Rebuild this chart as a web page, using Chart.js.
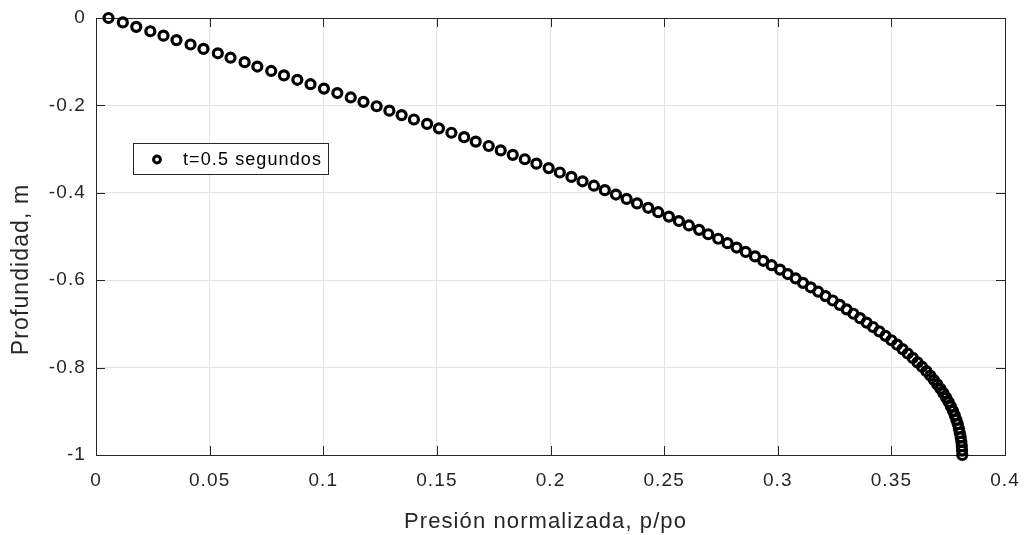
<!DOCTYPE html>
<html>
<head>
<meta charset="utf-8">
<script src="https://cdn.jsdelivr.net/npm/chart.js@4.4.1/dist/chart.umd.min.js"></script>
<style>
  html, body { margin: 0; padding: 0; background: #ffffff; }
  #wrap { width: 1025px; height: 535px; position: relative; }
</style>
</head>
<body>
<div id="wrap"><canvas id="c" width="1025" height="535"></canvas></div>
<script>
// ---- data ----
const depth = [
  0, -0.0101, -0.0202, -0.0303, -0.0404, -0.0505, -0.0606, -0.0707, -0.0808, -0.0909,
  -0.1010, -0.1111, -0.1212, -0.1313, -0.1414, -0.1515, -0.1616, -0.1717, -0.1818, -0.1919,
  -0.2020, -0.2121, -0.2222, -0.2323, -0.2424, -0.2525, -0.2626, -0.2727, -0.2828, -0.2929,
  -0.3030, -0.3131, -0.3232, -0.3333, -0.3434, -0.3535, -0.3636, -0.3737, -0.3838, -0.3939,
  -0.4040, -0.4141, -0.4242, -0.4343, -0.4444, -0.4545, -0.4646, -0.4747, -0.4848, -0.4949,
  -0.5051, -0.5152, -0.5253, -0.5354, -0.5455, -0.5556, -0.5657, -0.5758, -0.5859, -0.5960,
  -0.6061, -0.6162, -0.6263, -0.6364, -0.6465, -0.6566, -0.6667, -0.6768, -0.6869, -0.6970,
  -0.7071, -0.7172, -0.7273, -0.7374, -0.7475, -0.7576, -0.7677, -0.7778, -0.7879, -0.7980,
  -0.8081, -0.8182, -0.8283, -0.8384, -0.8485, -0.8586, -0.8687, -0.8788, -0.8889, -0.8990,
  -0.9091, -0.9192, -0.9293, -0.9394, -0.9495, -0.9596, -0.9697, -0.9798, -0.9899, -1.0000
];
const pressure = [
  0.0055, 0.0118, 0.0177, 0.0239, 0.0297, 0.0354, 0.0416, 0.0473, 0.0536, 0.0592,
  0.0654, 0.0710, 0.0771, 0.0827, 0.0886, 0.0944, 0.1003, 0.1062, 0.1121, 0.1177,
  0.1235, 0.1291, 0.1345, 0.1399, 0.1457, 0.1509, 0.1564, 0.1620, 0.1671, 0.1728,
  0.1781, 0.1834, 0.1887, 0.1938, 0.1992, 0.2041, 0.2092, 0.2141, 0.2191, 0.2239,
  0.2288, 0.2335, 0.2381, 0.2430, 0.2474, 0.2521, 0.2565, 0.2609, 0.2654, 0.2694,
  0.2738, 0.2779, 0.2819, 0.2859, 0.2900, 0.2936, 0.2973, 0.3010, 0.3044, 0.3079,
  0.3111, 0.3145, 0.3178, 0.3210, 0.3242, 0.3273, 0.3303, 0.3333, 0.3362, 0.3391,
  0.3419, 0.3447, 0.3474, 0.3500, 0.3525, 0.3549, 0.3572, 0.3594, 0.3615, 0.3635,
  0.3654, 0.3671, 0.3687, 0.3702, 0.3716, 0.3729, 0.3741, 0.3752, 0.3762, 0.3771,
  0.3779, 0.3786, 0.3792, 0.3797, 0.3801, 0.3805, 0.3808, 0.3810, 0.3811, 0.3812
];
const xTicks = [0, 0.05, 0.1, 0.15, 0.2, 0.25, 0.3, 0.35, 0.4];
const xTickLabels = ['0', '0.05', '0.1', '0.15', '0.2', '0.25', '0.3', '0.35', '0.4'];
const yTicks = [-1, -0.8, -0.6, -0.4, -0.2, 0];
const yTickLabels = ['-1', '-0.8', '-0.6', '-0.4', '-0.2', '0'];
const seriesLabel = 't=0.5 segundos';
const xTitle = 'Presión normalizada, p/po';
const yTitle = 'Profundidad, m';

// ---- styling ----
const FONT = '"Liberation Sans", Arial, Helvetica, sans-serif';
const AXIS_COLOR = '#262626';
const GRID_COLOR = '#e4e4e4';
Chart.defaults.font.family = FONT;

function labelFor(list, labels, v) {
  for (let i = 0; i < list.length; i++) if (Math.abs(list[i] - v) < 1e-9) return labels[i];
  return '';
}

const letterSpacingPlugin = {
  id: 'letterSpacing',
  beforeDraw(chart) { try { chart.ctx.letterSpacing = '1.1px'; } catch (e) {} }
};

const titleShiftPlugin = {
  id: 'titleShift',
  afterLayout(chart) {
    [['x', -5, 3], ['y', 8, 33]].forEach(([id, dx, dy]) => {
      const s = chart.scales[id];
      if (!s || s.__shifted) return;
      const name = typeof s.drawTitle === 'function' ? 'drawTitle' : '_drawTitle';
      const orig = s[name];
      s[name] = function () {
        this.ctx.save();
        this.ctx.translate(dx, dy);
        orig.apply(this, arguments);
        this.ctx.restore();
      };
      s.__shifted = true;
    });
  }
};

// axes box and inward tick marks (MATLAB style)
const framePlugin = {
  id: 'frame',
  beforeDatasetsDraw(chart) {
    const { ctx, chartArea: a, scales } = chart;
    const L = 9;
    ctx.save();
    ctx.strokeStyle = AXIS_COLOR;
    ctx.lineWidth = 1;
    ctx.beginPath();
    scales.x.ticks.forEach(t => {
      const px = Math.round(scales.x.getPixelForValue(t.value)) + 0.5;
      ctx.moveTo(px, a.bottom); ctx.lineTo(px, a.bottom - L);
      ctx.moveTo(px, a.top); ctx.lineTo(px, a.top + L);
    });
    scales.y.ticks.forEach(t => {
      const py = Math.round(scales.y.getPixelForValue(t.value)) + 0.5;
      ctx.moveTo(a.left, py); ctx.lineTo(a.left + L, py);
      ctx.moveTo(a.right, py); ctx.lineTo(a.right - L, py);
    });
    ctx.stroke();
    ctx.strokeRect(Math.round(a.left) + 0.5, Math.round(a.top) + 0.5,
                   Math.round(a.right - a.left), Math.round(a.bottom - a.top));
    ctx.restore();
  }
};

// boxed legend placed inside the axes like the MATLAB legend
const legendBoxPlugin = {
  id: 'legendBox',
  afterDatasetsDraw(chart) {
    const ctx = chart.ctx;
    const ds = chart.data.datasets[0];
    const bx = 133, by = 143, bw = 195, bh = 31;
    ctx.save();
    ctx.fillStyle = '#ffffff';
    ctx.fillRect(bx, by, bw, bh);
    ctx.strokeStyle = AXIS_COLOR;
    ctx.lineWidth = 1;
    ctx.strokeRect(bx + 0.5, by + 0.5, bw, bh);
    ctx.beginPath();
    ctx.arc(157, 159.5, 3.4, 0, Math.PI * 2);
    ctx.strokeStyle = ds.borderColor;
    ctx.lineWidth = 3;
    ctx.stroke();
    ctx.fillStyle = '#000000';
    ctx.font = '18px ' + FONT;
    ctx.textBaseline = 'middle';
    ctx.textAlign = 'left';
    ctx.fillText(ds.label, 183, 160);
    ctx.restore();
  }
};

const points = pressure.map((p, i) => ({ x: p, y: depth[i] }));

new Chart(document.getElementById('c'), {
  type: 'scatter',
  data: {
    datasets: [{
      label: seriesLabel,
      data: points,
      showLine: false,
      pointStyle: 'circle',
      pointRadius: 4.5,
      pointHoverRadius: 4.5,
      borderWidth: 3.2,
      pointBorderWidth: 3.2,
      borderColor: '#000000',
      backgroundColor: 'rgba(0,0,0,0)',
      clip: false
    }]
  },
  options: {
    responsive: false,
    devicePixelRatio: 1,
    animation: false,
    events: [],
    layout: { padding: { left: 0, right: 20, top: 18, bottom: 0 } },
    plugins: {
      legend: { display: false },
      tooltip: { enabled: false }
    },
    scales: {
      x: {
        type: 'linear',
        position: 'bottom',
        min: 0, max: 0.4,
        afterBuildTicks: s => { s.ticks = xTicks.map(v => ({ value: v })); },
        afterFit: s => { s.height = 80; s.paddingLeft = 0; s.paddingRight = 0; },
        ticks: {
          autoSkip: false, maxRotation: 0, padding: 14,
          color: AXIS_COLOR, font: { size: 19 },
          callback: v => labelFor(xTicks, xTickLabels, v)
        },
        grid: { color: GRID_COLOR, lineWidth: 1, drawTicks: false },
        border: { display: false },
        title: { display: true, text: xTitle, color: AXIS_COLOR, font: { size: 22 }, padding: { top: 0, bottom: 3 } }
      },
      y: {
        type: 'linear',
        position: 'left',
        min: -1, max: 0,
        afterBuildTicks: s => { s.ticks = yTicks.map(v => ({ value: v })); },
        afterFit: s => { s.width = 96; s.paddingTop = 0; s.paddingBottom = 0; },
        ticks: {
          autoSkip: false, padding: 10,
          color: AXIS_COLOR, font: { size: 19 },
          callback: v => labelFor(yTicks, yTickLabels, v)
        },
        grid: { color: GRID_COLOR, lineWidth: 1, drawTicks: false },
        border: { display: false },
        title: { display: true, text: yTitle, color: AXIS_COLOR, font: { size: 23 }, padding: { top: 0, bottom: 0 } }
      }
    }
  },
  plugins: [letterSpacingPlugin, titleShiftPlugin, framePlugin, legendBoxPlugin]
});
</script>
</body>
</html>
